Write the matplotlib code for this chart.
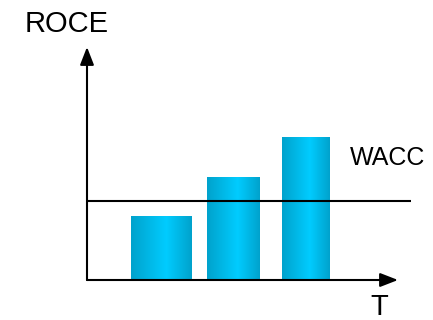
import numpy as np
import matplotlib
matplotlib.use("Agg")
import matplotlib.pyplot as plt
from matplotlib.colors import LinearSegmentedColormap

# Return on capital employed per period, compared with the cost of capital
periods = [1, 2, 3]
roce = [6.4, 10.3, 14.3]
wacc = 7.9

bar_widths = [0.83, 0.72, 0.66]

plt.rcParams["font.family"] = ["Liberation Sans", "DejaVu Sans"]

fig = plt.figure(figsize=(4.33, 3.2), dpi=100)
W, H = 433, 320
ax = fig.add_axes([87 / W, 40 / H, 324 / W, 233 / H])
ax.axis("off")

# cylindrical cyan shading across each bar
shade = LinearSegmentedColormap.from_list(
    "cyl", [(0.0, "#00A2CC"), (0.58, "#00CCFF"), (1.0, "#00A2CC")])
grad = np.linspace(0, 1, 256).reshape(1, -1)

for x, h, w in zip(periods, roce, bar_widths):
    rect = ax.bar(x, h, width=w, color="none", edgecolor="none", zorder=2)[0]
    img = ax.imshow(grad, cmap=shade, aspect="auto", zorder=2,
                    extent=(x - w / 2, x + w / 2, 0, h))
    img.set_clip_path(rect)

ax.set_xlim(-0.02, -0.02 + 324 / 72.5)
ax.set_ylim(0, 23.3)

# WACC hurdle line
ax.axhline(wacc, color="black", lw=1.5, zorder=3)

# axes drawn as arrows
arrow = dict(arrowstyle="-|>,head_length=0.9,head_width=0.35", lw=1.5,
             color="black", shrinkA=0, shrinkB=0, mutation_scale=12)
ax.annotate("", xy=(311 / 324, 0), xytext=(0, 0), xycoords="axes fraction",
            textcoords="axes fraction", arrowprops=arrow, zorder=4,
            annotation_clip=False)
ax.annotate("", xy=(0, 1), xytext=(0, 0), xycoords="axes fraction",
            textcoords="axes fraction", arrowprops=arrow, zorder=4,
            annotation_clip=False)

fig.text(25 / W, 1 - 32 / H, "ROCE", fontsize=21, va="baseline", ha="left")
fig.text(350 / W, 1 - 165 / H, "WACC", fontsize=18, va="baseline", ha="left")
fig.text(370 / W, 1 - 315 / H, "T", fontsize=21, va="baseline", ha="left")

fig.savefig("out.png", dpi=100)
